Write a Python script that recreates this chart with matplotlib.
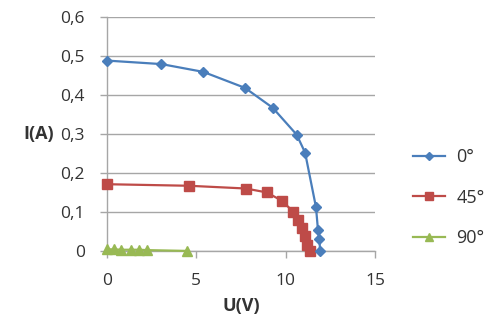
import matplotlib
matplotlib.use("Agg")
import matplotlib.pyplot as plt
from matplotlib.ticker import FuncFormatter

# I-V curves of a solar panel at three tilt angles
u_0 = [0.0, 3.05, 5.39, 7.72, 9.27, 10.61, 11.08, 11.69, 11.80, 11.88, 11.92]
i_0 = [0.488, 0.479, 0.459, 0.418, 0.367, 0.298, 0.252, 0.112, 0.054, 0.030, 0.0]

u_45 = [0.0, 4.59, 7.76, 8.93, 9.77, 10.43, 10.71, 10.89, 11.08, 11.21, 11.36]
i_45 = [0.171, 0.167, 0.160, 0.150, 0.129, 0.100, 0.080, 0.058, 0.037, 0.015, 0.0]

u_90 = [0.0, 0.4, 0.8, 1.35, 1.8, 2.25, 4.45]
i_90 = [0.004, 0.004, 0.003, 0.003, 0.003, 0.002, 0.0]

labels = ["0°", "45°", "90°"]
x_ticks = [0, 5, 10, 15]
y_ticks = [0, 0.1, 0.2, 0.3, 0.4, 0.5, 0.6]

plt.rcParams["font.family"] = ["Open Sans", "DejaVu Sans"]
text_color = "#333333"
grid_color = "#a6a6a6"

fig = plt.figure(figsize=(4.86, 3.25), dpi=100)
ax = fig.add_axes([0.22, 0.228, 0.552, 0.72])

ax.plot(u_0, i_0, color="#4a7ebb", lw=1.6, marker="D", ms=5, label=labels[0],
        clip_on=False, zorder=4)
ax.plot(u_45, i_45, color="#be4b48", lw=1.6, marker="s", ms=6.5, label=labels[1],
        clip_on=False, zorder=3)
ax.plot(u_90, i_90, color="#98b954", lw=1.6, marker="^", ms=6.5, label=labels[2],
        clip_on=False, zorder=3)

ax.set_xlim(0, 15)
ax.set_ylim(0, 0.6)
ax.set_xticks(x_ticks)
ax.set_yticks(y_ticks)

def comma(v, pos):
    if abs(v) < 1e-9:
        return "0"
    return f"{v:.1f}".replace(".", ",")

ax.yaxis.set_major_formatter(FuncFormatter(comma))
ax.xaxis.set_major_formatter(FuncFormatter(lambda v, p: f"{int(round(v))}"))

ax.grid(axis="y", color=grid_color, lw=1)
ax.set_axisbelow(True)
for s in ["top", "right"]:
    ax.spines[s].set_visible(False)
for s in ["left", "bottom"]:
    ax.spines[s].set_color(grid_color)
    ax.spines[s].set_linewidth(1)

ax.tick_params(axis="both", colors=grid_color, labelcolor=text_color,
               labelsize=12.5, length=5, width=1)
ax.tick_params(axis="x", pad=11)
ax.tick_params(axis="y", pad=11)

ax.set_xlabel("U(V)", fontsize=13, fontweight="bold", color=text_color, labelpad=6)
ax.set_ylabel("I(A)", fontsize=13, fontweight="bold", color=text_color,
              rotation=0, va="center")
ax.yaxis.set_label_coords(-0.255, 0.5)

leg = ax.legend(loc="center left", bbox_to_anchor=(1.08, 0.228), frameon=False,
                fontsize=13, labelcolor=text_color, handlelength=1.8,
                labelspacing=1.25, handletextpad=0.6, markerscale=0.8)

fig.savefig("out.png", dpi=100)
